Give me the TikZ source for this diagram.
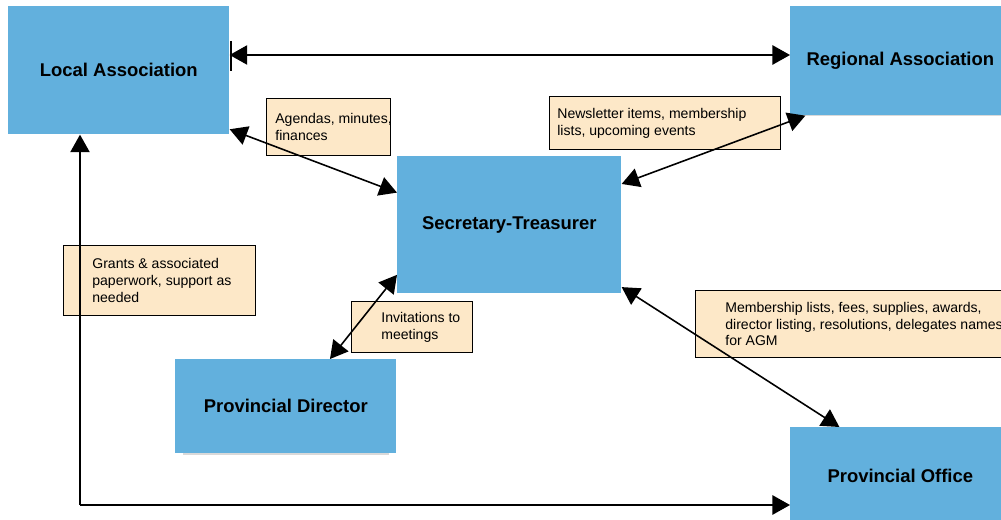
\documentclass[tikz,border=0pt]{standalone}
\usepackage{fontspec}
\setmainfont{Liberation Sans}
\usetikzlibrary{arrows.meta,positioning,shadows}

\definecolor{boxblue}{HTML}{62B0DD}
\definecolor{notefill}{HTML}{FDE8C8}

\tikzset{
	unit/.style = {fill = boxblue, anchor = north west, inner sep = 0pt,
		font = \fontsize{10.5}{12}\selectfont\bfseries,
		drop shadow = {shadow xshift = 0pt, shadow yshift = -0.1cm, shadow scale = 0.93, opacity = 0.15, fill = black}},
	note/.style = {fill = notefill, draw = black, line width = 0.6pt, anchor = north west, inner sep = 0pt},
	notetext/.style = {font = \fontsize{8}{9.6}\selectfont, align = left, inner sep = 0pt},
	link/.style = {line width = 0.9pt, {Triangle[length = 10pt, width = 11pt]}-{Triangle[length = 10pt, width = 11pt]}},
	feed/.style = {line width = 0.9pt, -{Triangle[length = 10pt, width = 11pt]}}
}

\begin{document}
\begin{tikzpicture}[x = 0.02cm, y = -0.02cm]
	\useasboundingbox (0, 0) rectangle (1001, 520);
	
	% blue boxes
	\node[unit, minimum width = 4.42cm, minimum height = 2.56cm] (loc) at (8, 6) {Local Association};
	\node[unit, minimum width = 4.40cm, minimum height = 2.18cm] (reg) at (790, 6) {Regional Association};
	\node[unit, minimum width = 4.48cm, minimum height = 2.74cm] (sec) at (397, 156) {Secretary-Treasurer};
	\node[unit, minimum width = 4.42cm, minimum height = 1.88cm] (pd) at (175, 359) {Provincial Director};
	\node[unit, minimum width = 4.40cm, minimum height = 1.96cm] (po) at (790, 427) {Provincial Office};
	
	% notes
	\node[note, minimum width = 2.48cm, minimum height = 1.14cm] (agnote) at (266, 98) {};
	\node[notetext, right = 0.18cm of agnote.west] (agtxt) {Agendas, minutes,\\finances};
	
	\node[note, minimum width = 4.62cm, minimum height = 1.06cm] (nlnote) at (549, 96) {};
	\node[notetext, right = 0.16cm of nlnote.west] (nltxt) {Newsletter items, membership\\lists, upcoming events};
	
	\node[note, minimum width = 3.84cm, minimum height = 1.40cm] (grnote) at (63, 245) {};
	\node[notetext, right = 0.58cm of grnote.west] (grtxt) {Grants \& associated\\paperwork, support as\\needed};
	
	\node[note, minimum width = 2.42cm, minimum height = 1.02cm] (innote) at (351, 301) {};
	\node[notetext, right = 0.60cm of innote.west] (intxt) {Invitations to\\meetings};
	
	\node[note, minimum width = 6.40cm, minimum height = 1.34cm] (mbnote) at (695, 290) {};
	\node[notetext, right = 0.60cm of mbnote.west] (mbtxt) {Membership lists, fees, supplies, awards,\\director listing, resolutions, delegates names\\for AGM};
	
	% connectors
	\coordinate (topline) at (0, 55);
	\draw[link] (loc.east |- topline) -- (reg.west |- topline);
	\draw[line width = 1pt] (231, 41) -- (231, 71);
	
	\draw[link] (loc.-28) -- (sec.164);
	\draw[link] (reg.210) -- (sec.20);
	\draw[link] (pd.47) -- (sec.204);
	\draw[link] (sec.-29) -- (po.141);
	
	\coordinate (corner) at (80, 505);
	\draw[feed] (corner) -- (corner |- loc.south);
	\draw[feed] (corner) -- (corner -| po.west);
\end{tikzpicture}
\end{document}
